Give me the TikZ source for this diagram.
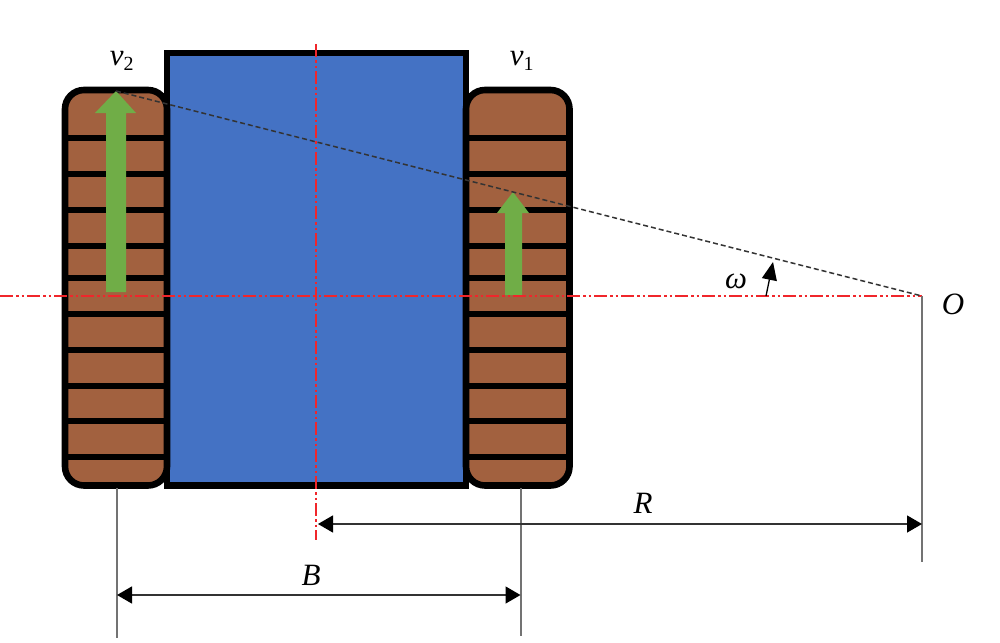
\documentclass[tikz,border=0pt]{standalone}
\usepackage{fontspec}
\setmainfont{Liberation Serif}
\usetikzlibrary{arrows.meta}
\definecolor{bodyblue}{HTML}{4472C4}
\definecolor{trackbrown}{HTML}{A2613F}
\definecolor{arrowgreen}{HTML}{70AD47}
\definecolor{axisred}{HTML}{F0262B}
\tikzset{
  x=1pt,y=-1pt,
  bodybox/.style={draw=black,line width=6.6pt,fill=bodyblue,miter limit=10},
  trackbox/.style={draw=black,line width=6.6pt,fill=trackbrown,rounded corners=19pt},
  trackbar/.style={draw=black,line width=6pt},
  bigarrow/.style={fill=arrowgreen,draw=none},
  axisline/.style={draw=axisred,line width=1.5pt,dash pattern=on 13pt off 3pt on 2.5pt off 3pt on 2.5pt off 3pt},
  radiusline/.style={draw=black!80,line width=1.5pt,dash pattern=on 5pt off 3pt},
  guideline/.style={draw=black!55,line width=2pt},
  dimline/.style={draw=black!80,line width=1.4pt,{Triangle[length=15pt,width=17pt,black]}-{Triangle[length=15pt,width=17pt,black]}},
  anglearrow/.style={draw=black,line width=1.3pt,-{Triangle[length=18pt,width=15pt,black]}},
  lbl/.style={font=\fontsize{31}{34}\selectfont\itshape,inner sep=0pt},
}
\newcommand{\trackbars}[2]{%
  \foreach \yy in {138,174,210,246,278,314,350,386,421,457}{\draw[trackbar] (#1,\yy) -- (#2,\yy);}}
\begin{document}
\begin{tikzpicture}
\useasboundingbox (0,0) rectangle (1000,642);
% chassis
\draw[bodybox] (167,53) rectangle (466,485.5);
% tracks
\draw[trackbox] (65,90) rectangle (167,485.5);
\trackbars{65}{167}
\draw[trackbox] (466,90) rectangle (569.5,485.5);
\trackbars{466}{569.5}
% green arrows
\fill[bigarrow] (116,91) -- (136,113) -- (126,113) -- (126,292) -- (106,292) -- (106,113) -- (95,113) -- cycle;
\fill[bigarrow] (513,192) -- (529,213) -- (522,213) -- (522,295) -- (505,295) -- (505,213) -- (497,213) -- cycle;
% named points
\coordinate (axisL) at (0,296);
\coordinate (O) at (922,296);
\coordinate (axisT) at (316,44);
\coordinate (axisB) at (316,540);
\coordinate (tip2) at (116,91);
\coordinate (g1t) at (117,488);
\coordinate (g1b) at (117,638);
\coordinate (g2t) at (520.5,488);
\coordinate (g2b) at (520.5,636);
\coordinate (g3b) at (922,562);
\coordinate (Rl) at (318,524);
\coordinate (Rr) at (922,524);
\coordinate (Bl) at (117,595);
\coordinate (Br) at (520.5,595);
\coordinate (wa) at (766,296);
\coordinate (wb) at (773,262);
% lines
\draw[axisline] (axisL) -- (O);
\draw[axisline] (axisT) -- (axisB);
\draw[radiusline] (tip2) -- (O);
\draw[guideline] (g1t) -- (g1b);
\draw[guideline] (g2t) -- (g2b);
\draw[guideline] (O) -- (g3b);
\draw[dimline] (Rl) -- (Rr);
\draw[dimline] (Bl) -- (Br);
\draw[anglearrow] (wa) -- (wb);
% labels
\node[lbl] (v2) at (122,61) {v\textsubscript{\upshape\fontsize{20}{20}\selectfont 2}};
\node[lbl] (v1) at (522,61) {v\textsubscript{\upshape\fontsize{20}{20}\selectfont 1}};
\node[lbl] (w) at (736,281) {ω};
\node[lbl] (Olab) at (953,304) {O};
\node[lbl] (Rlab) at (643,503) {R};
\node[lbl] (Blab) at (311,575) {B};
\end{tikzpicture}
\end{document}
